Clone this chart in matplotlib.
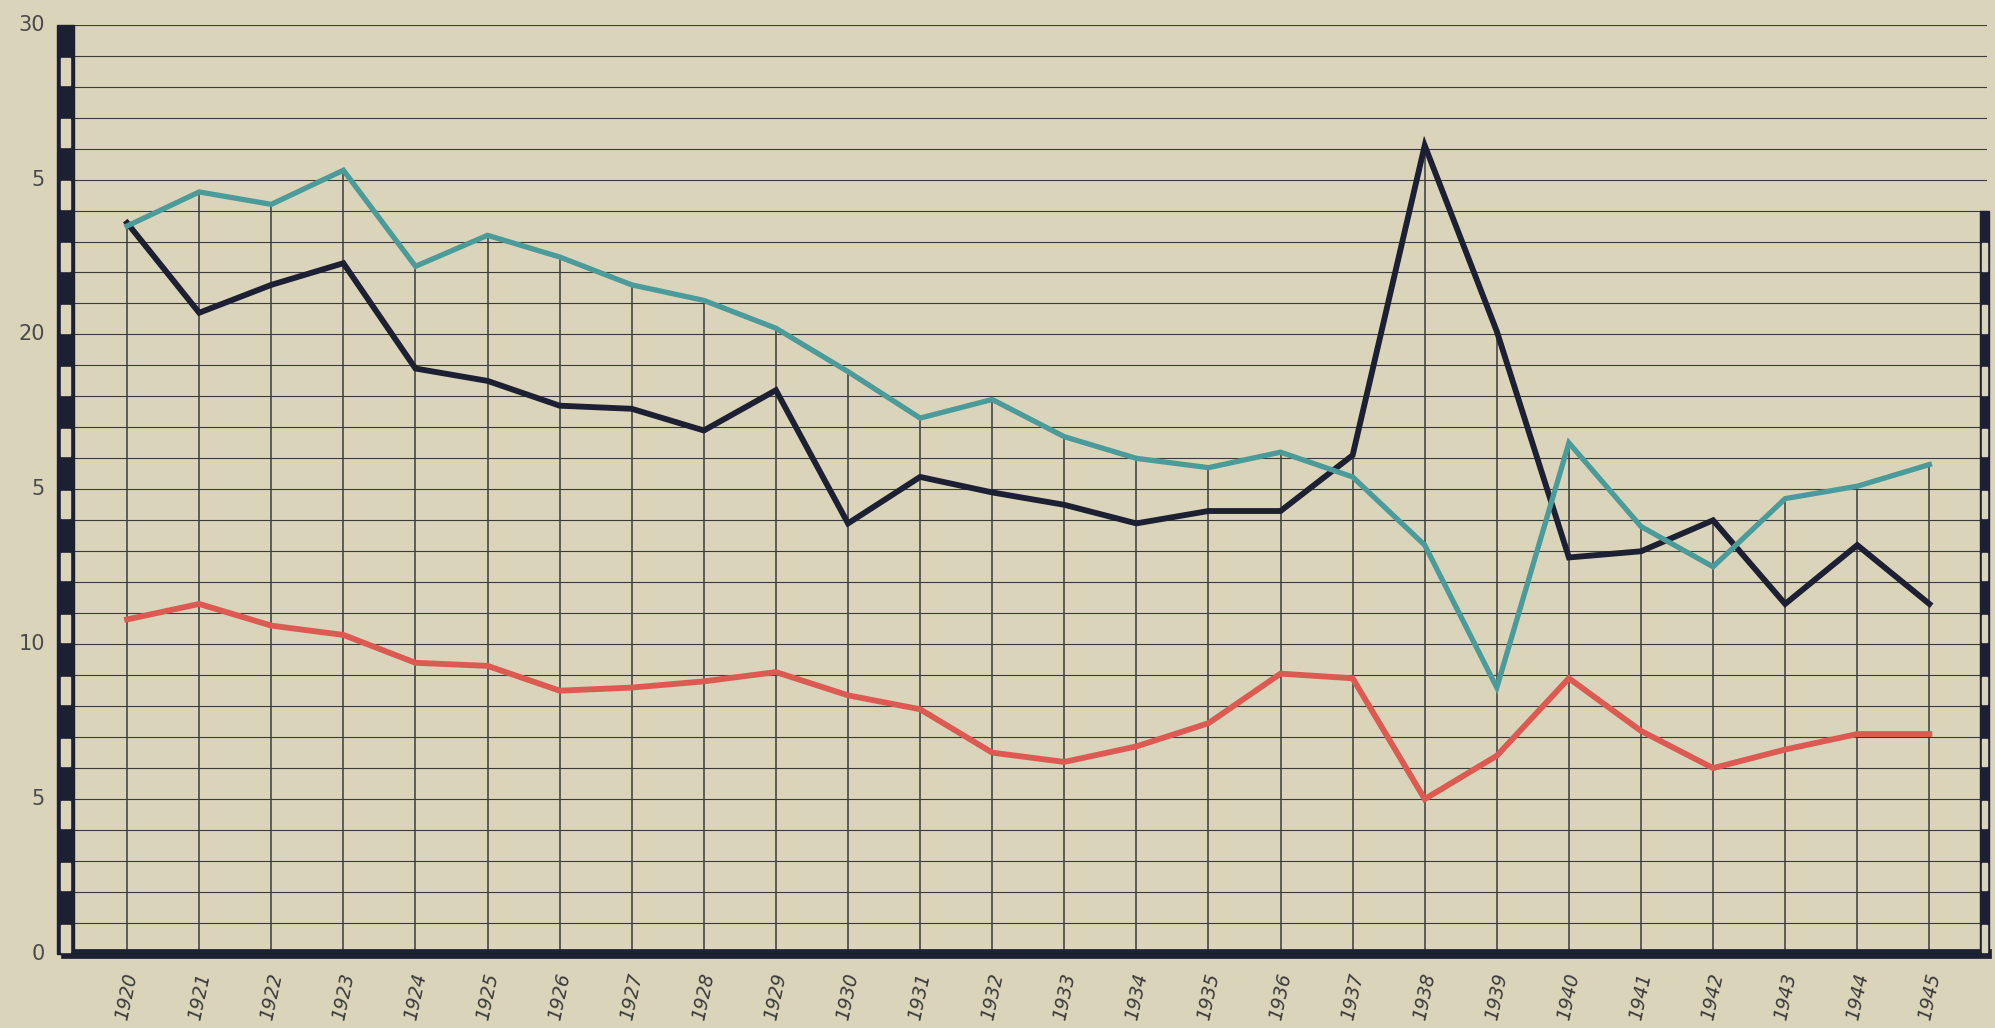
import matplotlib
matplotlib.use("Agg")
import matplotlib.pyplot as plt
from matplotlib.patches import Rectangle

PAPER = "#d9d4ba"
INK = "#1d1f33"
TEAL = "#4b9b9a"
RED = "#dc5a52"
GRID = "#3b3b3b"

# data
years = list(range(1920, 1946))
teal = [23.5, 24.6, 24.2, 25.3, 22.2, 23.2, 22.5, 21.6, 21.1, 20.2,
        18.8, 17.3, 17.9, 16.7, 16.0, 15.7, 16.2, 15.4, 13.2, 8.6,
        16.5, 13.8, 12.5, 14.7, 15.1, 15.8]
black = [23.6, 20.7, 21.6, 22.3, 18.9, 18.5, 17.7, 17.6, 16.9, 18.2,
         13.9, 15.4, 14.9, 14.5, 13.9, 14.3, 14.3, 16.1, 26.1, 20.1,
         12.8, 13.0, 14.0, 11.3, 13.2, 11.3]
red = [10.8, 11.3, 10.6, 10.3, 9.4, 9.3, 8.5, 8.6, 8.8, 9.1,
       8.35, 7.9, 6.5, 6.2, 6.7, 7.45, 9.05, 8.9, 5.0, 6.4,
       8.9, 7.2, 6.0, 6.6, 7.1, 7.1]
ytick_vals = [0, 5, 10, 15, 20, 25, 30]
ytick_labels = ["0", "5", "10", "5", "20", "5", "30"]

fig = plt.figure(figsize=(19.95, 10.28), dpi=100, facecolor=PAPER)
ax = fig.add_axes([0.033, 0.072, 0.963, 0.904])
ax.set_facecolor(PAPER)
ax.set_xlim(1919.15, 1945.8)
ax.set_ylim(0, 30)
for s in ax.spines.values():
    s.set_visible(False)
ax.set_xticks([])
ax.set_yticks([])

# horizontal rulings, one per unit
for v in range(1, 31):
    ax.axhline(v, color=GRID, lw=0.8, zorder=1)

# vertical year lines only up to the highest curve
tops = [max(a, b, c) for a, b, c in zip(teal, black, red)]
ax.vlines(years, 0, tops, color=GRID, lw=1.1, zorder=1)

ax.plot(years, red, color=RED, lw=4.2, zorder=3, solid_joinstyle="miter")
ax.plot(years, black, color=INK, lw=4.2, zorder=4, solid_joinstyle="miter")
ax.plot(years, teal, color=TEAL, lw=3.8, zorder=5, solid_joinstyle="miter")

# bottom axis
ax.axhline(0, color=INK, lw=7, zorder=6, clip_on=False)

# side scale bars: black with white inset on every other unit
tr = ax.get_yaxis_transform()


def scale_bar(x0, w, top):
    ax.add_patch(Rectangle((x0, 0), w, top, transform=tr, color=INK,
                           zorder=7, clip_on=False))
    for k in range(0, int(top), 2):
        ax.add_patch(Rectangle((x0 + w * 0.25, k + 0.06), w * 0.5, 0.88,
                               transform=tr, color=PAPER, zorder=8, clip_on=False))


scale_bar(-0.0048, 0.0092, 30)
scale_bar(0.9965, 0.0045, 24)

for v, lab in zip(ytick_vals, ytick_labels):
    ax.text(-0.011, v, lab, transform=tr, ha="right", va="center",
            fontsize=15, color="#4a4a4a")

for y in years:
    ax.text(y, -0.55, str(y), ha="center", va="top", rotation=78,
            fontsize=13.5, style="italic", color="#3a3a3a")

fig.savefig("out.png", dpi=100, facecolor=PAPER)
